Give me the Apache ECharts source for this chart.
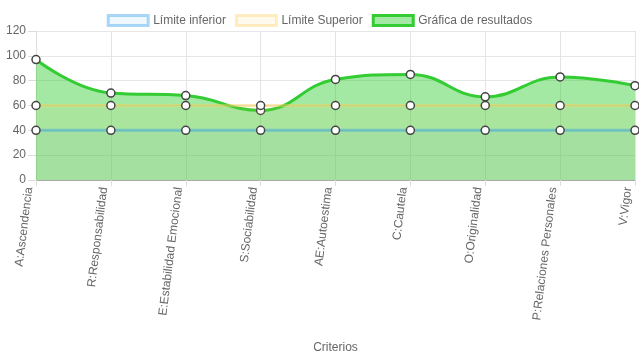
<!DOCTYPE html>
<html><head><meta charset="utf-8">
<script src="https://cdn.jsdelivr.net/npm/echarts@6/dist/echarts.min.js"></script>
<style>html,body{margin:0;padding:0;background:#fff}#c{width:639px;height:360px}</style>
</head><body><div id="c"></div>
<script>
var categories = ['A:Ascendencia','R:Responsabilidad','E:Estabilidad Emocional','S:Sociabilidad','AE:Autoestima','C:Cautela','O:Originalidad','P:Relaciones Personales','V:Vigor'];
var limiteInferior = [40,40,40,40,40,40,40,40,40];
var limiteSuperior = [60,60,60,60,60,60,60,60,60];
var resultados = [97,70,68,56,81,85,67,83,76];
var yTicks = {min:0, max:120, interval:20};

var chart = echarts.init(document.getElementById('c'), null, {renderer:'canvas'});
var font = 'Arial, "Liberation Sans", sans-serif';
var sym = {symbol:'circle', symbolSize:8, itemStyle:{color:'#fff', borderColor:'#444', borderWidth:1.5}};
chart.setOption({
  animation:false,
  textStyle:{fontFamily:font},
  legend:{
    top:9, left:'center', itemWidth:40, itemHeight:10, itemGap:9,
    textStyle:{color:'#666', fontSize:12, fontFamily:font},
    data:[
      {name:'Límite inferior', icon:'rect', itemStyle:{color:'rgba(54,162,235,0.08)', borderColor:'rgba(54,162,235,0.42)', borderWidth:3}},
      {name:'Límite Superior', icon:'rect', itemStyle:{color:'rgba(255,206,86,0.1)', borderColor:'rgba(255,206,86,0.35)', borderWidth:3}},
      {name:'Gráfica de resultados', icon:'rect', itemStyle:{color:'rgba(50,205,50,0.45)', borderColor:'#33cc33', borderWidth:3}}
    ]
  },
  grid:{left:36, right:4, top:31, bottom:180, containLabel:false},
  xAxis:{
    type:'category', data:categories, boundaryGap:false,
    name:'Criterios', nameLocation:'middle', nameGap:162,
    nameTextStyle:{color:'#666', fontSize:12, fontFamily:font},
    axisLine:{show:true, lineStyle:{color:'#aaa'}},
    axisTick:{show:true, length:6, lineStyle:{color:'#ddd'}},
    axisLabel:{rotate:83, color:'#666', fontSize:12, fontFamily:font, margin:8, verticalAlign:'bottom', lineHeight:14},
    splitLine:{show:true, lineStyle:{color:'#e4e4e4'}}
  },
  yAxis:{
    type:'value', min:yTicks.min, max:yTicks.max, interval:yTicks.interval,
    axisLine:{show:true, lineStyle:{color:'#ddd'}},
    axisTick:{show:true, length:8, lineStyle:{color:'#ddd'}},
    axisLabel:{color:'#666', fontSize:12, fontFamily:font, margin:10},
    splitLine:{show:true, lineStyle:{color:'#e6e6e6'}}
  },
  series:[
    Object.assign({name:'Gráfica de resultados', type:'line', data:resultados, smooth:0.45, z:2,
      lineStyle:{color:'#33cc33', width:3},
      areaStyle:{color:'rgba(50,205,50,0.45)', opacity:1, origin:'start'}}, sym),
    Object.assign({name:'Límite Superior', type:'line', data:limiteSuperior, z:3,
      lineStyle:{color:'rgba(255,206,86,0.45)', width:3},
      areaStyle:{color:'rgba(255,206,86,0.08)', opacity:1, origin:'start'}}, sym),
    Object.assign({name:'Límite inferior', type:'line', data:limiteInferior, z:4,
      lineStyle:{color:'rgba(54,162,235,0.45)', width:3},
      areaStyle:{color:'rgba(54,162,235,0.05)', opacity:1, origin:'start'}}, sym)
  ]
});
</script></body></html>
